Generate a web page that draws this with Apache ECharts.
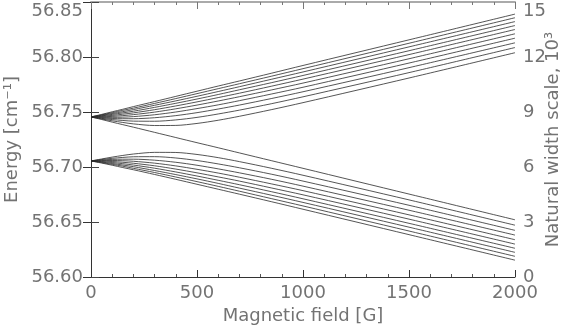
<!DOCTYPE html>
<html>
<head>
<meta charset="utf-8">
<script src="https://cdn.jsdelivr.net/npm/echarts@6/dist/echarts.min.js"></script>
<style>
  html, body { margin: 0; padding: 0; background: #fff; }
  #main { width: 566px; height: 331px; }
</style>
</head>
<body>
<div id="main"></div>
<script>
// magnetic field sample points [G]
const fieldValues = [0, 50, 100, 150, 200, 300, 400, 500, 600, 700, 850, 1000, 1500, 2000];

// upper hyperfine level, sublevels rising with field (energy in cm^-1)
const upperBranch = [
  [56.7455, 56.7478, 56.7502, 56.7525, 56.7549, 56.7595, 56.7642, 56.7689, 56.7736, 56.7782, 56.7852, 56.7923, 56.8156, 56.8390],
  [56.7455, 56.7474, 56.7494, 56.7515, 56.7535, 56.7578, 56.7622, 56.7667, 56.7712, 56.7757, 56.7825, 56.7894, 56.8125, 56.8357],
  [56.7455, 56.7470, 56.7486, 56.7503, 56.7522, 56.7561, 56.7601, 56.7643, 56.7686, 56.7730, 56.7797, 56.7864, 56.8092, 56.8322],
  [56.7455, 56.7465, 56.7478, 56.7492, 56.7507, 56.7542, 56.7579, 56.7618, 56.7659, 56.7702, 56.7766, 56.7832, 56.8057, 56.8286],
  [56.7455, 56.7461, 56.7469, 56.7480, 56.7492, 56.7521, 56.7555, 56.7592, 56.7631, 56.7671, 56.7734, 56.7799, 56.8022, 56.8250],
  [56.7455, 56.7456, 56.7460, 56.7467, 56.7476, 56.7499, 56.7529, 56.7563, 56.7600, 56.7639, 56.7700, 56.7763, 56.7984, 56.8211],
  [56.7455, 56.7452, 56.7451, 56.7453, 56.7458, 56.7475, 56.7500, 56.7531, 56.7565, 56.7603, 56.7663, 56.7725, 56.7945, 56.8171],
  [56.7455, 56.7447, 56.7441, 56.7439, 56.7439, 56.7448, 56.7467, 56.7494, 56.7527, 56.7563, 56.7622, 56.7684, 56.7903, 56.8129],
  [56.7455, 56.7442, 56.7431, 56.7423, 56.7417, 56.7416, 56.7428, 56.7451, 56.7482, 56.7517, 56.7575, 56.7638, 56.7858, 56.8086],
  [56.7455, 56.7437, 56.7420, 56.7405, 56.7392, 56.7377, 56.7378, 56.7396, 56.7425, 56.7461, 56.7521, 56.7585, 56.7809, 56.8039]
];

// the one upper sublevel that runs straight down
const crossingLine = [56.7455, 56.7432, 56.7408, 56.7385, 56.7362, 56.7315, 56.7268, 56.7221, 56.7175, 56.7128, 56.7058, 56.6988, 56.6754, 56.6520];

// lower hyperfine level sublevels
const lowerBranch = [
  [56.7055, 56.7036, 56.7016, 56.6995, 56.6975, 56.6932, 56.6888, 56.6843, 56.6798, 56.6753, 56.6685, 56.6616, 56.6385, 56.6153],
  [56.7055, 56.7040, 56.7024, 56.7007, 56.6988, 56.6950, 56.6909, 56.6867, 56.6824, 56.6780, 56.6713, 56.6646, 56.6418, 56.6188],
  [56.7055, 56.7045, 56.7032, 56.7018, 56.7003, 56.6968, 56.6931, 56.6892, 56.6851, 56.6808, 56.6744, 56.6678, 56.6453, 56.6224],
  [56.7055, 56.7049, 56.7041, 56.7030, 56.7018, 56.6989, 56.6955, 56.6918, 56.6879, 56.6839, 56.6776, 56.6711, 56.6488, 56.6261],
  [56.7055, 56.7054, 56.7050, 56.7043, 56.7034, 56.7011, 56.6981, 56.6947, 56.6910, 56.6872, 56.6810, 56.6747, 56.6526, 56.6299],
  [56.7055, 56.7058, 56.7059, 56.7057, 56.7052, 56.7035, 56.7010, 56.6979, 56.6945, 56.6907, 56.6847, 56.6785, 56.6565, 56.6339],
  [56.7055, 56.7063, 56.7069, 56.7071, 56.7071, 56.7062, 56.7043, 56.7016, 56.6983, 56.6947, 56.6889, 56.6826, 56.6607, 56.6381],
  [56.7055, 56.7068, 56.7079, 56.7087, 56.7093, 56.7094, 56.7082, 56.7059, 56.7028, 56.6993, 56.6935, 56.6872, 56.6652, 56.6424],
  [56.7055, 56.7073, 56.7090, 56.7105, 56.7118, 56.7133, 56.7132, 56.7114, 56.7085, 56.7049, 56.6989, 56.6925, 56.6701, 56.6471]
];

const energyTicks = [56.60, 56.85, 0.05];   // min, max, step
const widthTicks = [0, 15, 3];
const fieldTicks = [0, 2000, 500];

var chartDom = document.getElementById('main');
var myChart = echarts.init(chartDom);

const textStyle = {
  fontFamily: 'DejaVu Sans',
  fontSize: 18,
  color: '#737373'
};

const makeSeries = (values) => ({
  type: 'line',
  data: fieldValues.map((b, i) => [b, values[i]]),
  showSymbol: false,
  smooth: 0.3,
  silent: true,
  lineStyle: { color: '#2a2a2a', width: 0.8 }
});

const allLines = upperBranch.concat([crossingLine], lowerBranch);

var option = {
  animation: false,
  grid: { left: 91, right: 51, top: 2, bottom: 54, outerBoundsMode: 'none' },
  xAxis: [
    {
      type: 'value',
      position: 'bottom',
      min: fieldTicks[0],
      max: fieldTicks[1],
      interval: fieldTicks[2],
      name: 'Magnetic field [G]',
      nameLocation: 'middle',
      nameGap: 30,
      nameMoveOverlap: false,
      nameTextStyle: textStyle,
      axisLine: { lineStyle: { color: '#333', width: 1 } },
      axisTick: { inside: true, length: 7, lineStyle: { color: '#333' } },
      minorTick: { show: true, splitNumber: 5, length: 3, lineStyle: { color: '#555' } },
      axisLabel: Object.assign({ margin: 7, formatter: v => String(v) }, textStyle),
      splitLine: { show: false }
    },
    {
      type: 'value',
      position: 'top',
      min: fieldTicks[0],
      max: fieldTicks[1],
      interval: fieldTicks[2],
      axisLine: { lineStyle: { color: '#aaa', width: 2 } },
      axisTick: { inside: true, length: 7, lineStyle: { color: '#777' } },
      minorTick: { show: true, splitNumber: 5, length: 3, lineStyle: { color: '#777' } },
      axisLabel: { show: false },
      splitLine: { show: false }
    }
  ],
  yAxis: [
    {
      type: 'value',
      position: 'left',
      min: energyTicks[0],
      max: energyTicks[1],
      interval: energyTicks[2],
      name: 'Energy [cm\u207B\u00B9]',
      nameLocation: 'middle',
      nameRotate: 90,
      nameGap: 70,
      nameMoveOverlap: false,
      nameTextStyle: textStyle,
      axisLine: { show: true, lineStyle: { color: '#444', width: 1 } },
      axisTick: { show: true, inside: true, length: 8, lineStyle: { color: '#444' } },
      axisLabel: Object.assign({
        margin: 8,
        verticalAlignMaxLabel: 'top',
        formatter: v => v.toFixed(2)
      }, textStyle),
      splitLine: { show: false }
    },
    {
      type: 'value',
      position: 'right',
      min: widthTicks[0],
      max: widthTicks[1],
      interval: widthTicks[2],
      name: 'Natural width scale, 10\u00B3',
      nameLocation: 'middle',
      nameRotate: 90,
      nameGap: 29,
      nameMoveOverlap: false,
      nameTextStyle: textStyle,
      axisLine: { show: true, lineStyle: { color: '#333', width: 1 } },
      axisTick: { show: true, inside: true, length: 8, lineStyle: { color: '#333' } },
      axisLabel: Object.assign({ margin: 8, verticalAlignMaxLabel: 'top' }, textStyle),
      splitLine: { show: false }
    }
  ],
  series: allLines.map(makeSeries)
};

option && myChart.setOption(option);
</script>
</body>
</html>
